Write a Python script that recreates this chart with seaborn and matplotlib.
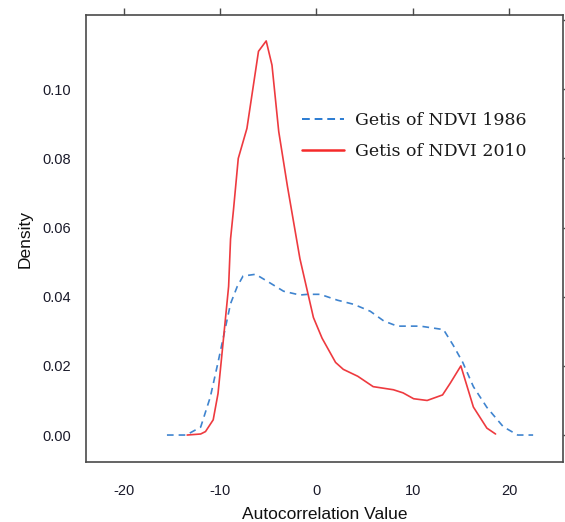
import matplotlib
matplotlib.use("Agg")
import matplotlib.pyplot as plt
import seaborn as sns
import pandas as pd
import numpy as np

# ---- data ----
x_1986 = [-15.5, -13.5, -12.0, -11.0, -10.2, -9.7, -8.9, -8.2, -7.6, -6.3, -5.1, -3.4,
          -1.7, -0.9, 0.4, 2.2, 3.9, 5.6, 7.0, 8.4, 10.8, 13.2, 14.2, 15.2, 16.3,
          17.7, 19.4, 20.9, 22.5]
y_1986 = [0.0, 0.0, 0.0023, 0.011, 0.021, 0.0276, 0.038, 0.043, 0.046, 0.0465, 0.0445,
          0.0416, 0.0405, 0.0407, 0.0407, 0.039, 0.0378, 0.0358, 0.033, 0.0315, 0.0315,
          0.0305, 0.026, 0.021, 0.014, 0.008, 0.0024, 0.0, 0.0]

x_2010 = [-13.4, -12.0, -11.5, -10.7, -10.2, -9.7, -9.1, -8.9, -8.6, -8.1, -7.2, -6.0,
          -5.2, -4.6, -3.9, -3.0, -1.7, -0.3, 0.6, 2.0, 2.8, 4.3, 5.9, 8.0, 9.0, 10.1,
          11.5, 13.1, 13.9, 15.0, 16.3, 17.7, 18.6]
y_2010 = [0.0, 0.0003, 0.001, 0.0044, 0.012, 0.026, 0.043, 0.0567, 0.065, 0.080, 0.0887,
          0.111, 0.114, 0.107, 0.0878, 0.072, 0.051, 0.034, 0.028, 0.021, 0.019, 0.017,
          0.014, 0.0131, 0.0122, 0.0105, 0.010, 0.0116, 0.015, 0.020, 0.0081, 0.002,
          0.0003]

labels = ["Getis of NDVI 1986", "Getis of NDVI 2010"]
x_ticks = [-20, -10, 0, 10, 20]
y_ticks = [0.00, 0.02, 0.04, 0.06, 0.08, 0.10, 0.12]
y_ticklabels = ["0.00", "0.02", "0.04", "0.06", "0.08", "0.10", ""]

df = pd.concat([
    pd.DataFrame({"x": x_1986, "y": y_1986, "series": labels[0]}),
    pd.DataFrame({"x": x_2010, "y": y_2010, "series": labels[1]}),
], ignore_index=True)

sns.set_style("white")
plt.rcParams["font.family"] = ["Liberation Sans", "DejaVu Sans"]

fig = plt.figure(figsize=(5.65, 5.22), dpi=100)
ax = fig.add_axes([86/565, 1 - 462/522, (563-86)/565, (462-15)/522])

palette = {labels[0]: "#3f84cf", labels[1]: "#ee3a3f"}
sns.lineplot(data=df, x="x", y="y", hue="series", style="series",
             dashes={labels[0]: (4, 3), labels[1]: ""},
             palette=palette, linewidth=1.2, ax=ax, sort=False, legend=False,
             estimator=None)

ax.set_xlim(-23.9, 25.6)
ax.set_ylim(-0.0078, 0.1215)
ax.set_xticks(x_ticks)
ax.set_xticklabels([str(t) for t in x_ticks])
ax.set_yticks(y_ticks)
ax.set_yticklabels(y_ticklabels)

for s in ax.spines.values():
    s.set_color("#4a4a4a")
    s.set_linewidth(1.2)
ax.tick_params(axis="both", which="both", direction="out", length=5, width=1.0,
               color="#4a4a4a", labelsize=10.5, labelcolor="#1a1a2a",
               top=True, right=True, labeltop=False, labelright=False)
ax.tick_params(axis="x", pad=11)
ax.tick_params(axis="y", pad=6)

ax.set_xlabel("Autocorrelation Value", fontsize=12.5, color="#111111", labelpad=6)
ax.set_ylabel("Density", fontsize=12.5, color="#111111", labelpad=7)

from matplotlib.lines import Line2D
handles = [Line2D([], [], color="#2a7bd2", lw=1.4, ls=(0, (4, 2.5))),
           Line2D([], [], color="#f52a2a", lw=1.8)]
leg = ax.legend(handles, labels, loc="upper left",
                bbox_to_anchor=(302/565, 1 - 112/522), bbox_transform=fig.transFigure,
                frameon=False, borderpad=0, borderaxespad=0,
                handlelength=2.4, handletextpad=0.65, labelspacing=0.8,
                prop={"family": "DejaVu Serif", "size": 12.5})
for t in leg.get_texts():
    t.set_color("#1a1a1a")

fig.savefig("out.png", dpi=100)
